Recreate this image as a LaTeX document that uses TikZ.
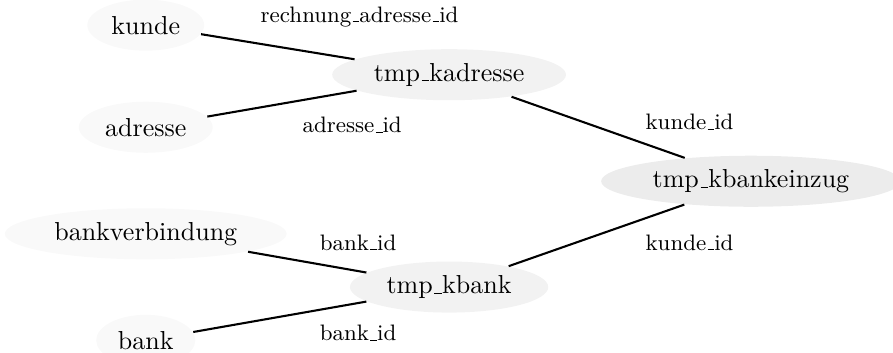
\documentclass[tikz,border=0pt]{standalone}
\usetikzlibrary{shapes.geometric}
% underscore as a short rule on the baseline
\newcommand{\usc}{\kern.06em\vbox{\hrule width.3em}}
\begin{document}
\begin{tikzpicture}[
    tbl/.style={ellipse, inner sep=0pt, minimum height=0.69cm},
    key/.style={font=\fontsize{8.6}{10}\selectfont},
    rel/.style={line width=0.8pt}]
    \useasboundingbox (0,0) rectangle (12.07,4.77);
    % tables
    \node[tbl,fill=gray!5,minimum width=1.58cm]  (kunde)   at (1.97,4.43) {kunde};
    \node[tbl,fill=gray!5,minimum width=1.81cm]  (adresse) at (1.97,3.05) {adresse};
    \node[tbl,fill=gray!10,minimum width=3.16cm] (kadr)    at (6.07,3.76) {tmp\usc kadresse};
    \node[tbl,fill=gray!15,minimum width=4.05cm] (keinzug) at (10.15,2.32) {tmp\usc kbankeinzug};
    \node[tbl,fill=gray!5,minimum width=3.81cm]  (bankvb)  at (1.97,1.61) {bankverbindung};
    \node[tbl,fill=gray!10,minimum width=2.68cm] (kbank)   at (6.07,0.89) {tmp\usc kbank};
    \node[tbl,fill=gray!5,minimum width=1.34cm]  (bank)    at (1.97,0.17) {bank};
    % relations
    \draw[rel] (kunde) -- (kadr);
    \draw[rel] (adresse) -- (kadr);
    \draw[rel] (kadr) -- (keinzug);
    \draw[rel] (keinzug) -- (kbank);
    \draw[rel] (bankvb) -- (kbank);
    \draw[rel] (bank) -- (kbank);
    % key labels
    \node[key] (k1) at (4.86,4.54) {rechnung\usc adresse\usc id};
    \node[key] (k2) at (4.76,3.08) {adresse\usc id};
    \node[key] (k3) at (9.32,3.12) {kunde\usc id};
    \node[key] (k4) at (9.32,1.49) {kunde\usc id};
    \node[key] (k5) at (4.84,1.49) {bank\usc id};
    \node[key] (k6) at (4.84,0.27) {bank\usc id};
\end{tikzpicture}
\end{document}
